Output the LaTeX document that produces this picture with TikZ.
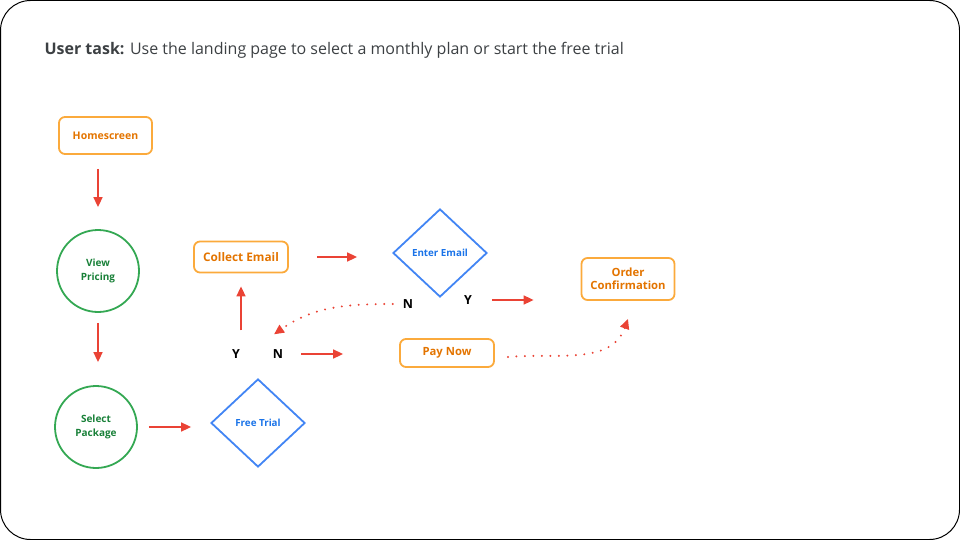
\documentclass[tikz,border=0pt]{standalone}
\usepackage{fontspec}
\setmainfont{Open Sans}
\usetikzlibrary{shapes.geometric,arrows.meta}
\definecolor{boxorange}{HTML}{FBAA3C}
\definecolor{txtorange}{HTML}{E37400}
\definecolor{gcircle}{HTML}{34A853}
\definecolor{txtgreen}{HTML}{188038}
\definecolor{bdiamond}{HTML}{4285F4}
\definecolor{txtblue}{HTML}{1A73E8}
\definecolor{arrred}{HTML}{EA4335}
\definecolor{titlegray}{HTML}{3C4043}
\tikzset{
  stepbox/.style={draw=boxorange,line width=1.8pt,rounded corners=6pt,
    text=txtorange,font=\bfseries\fontsize{11.3}{13.5}\selectfont,align=center,
    minimum width=93pt,inner sep=2pt},
  stepcirc/.style={circle,draw=gcircle,line width=1.8pt,text=txtgreen,
    font=\bfseries\fontsize{10}{13.5}\selectfont,align=center,minimum size=82pt,inner sep=0pt},
  stepdia/.style={diamond,draw=bdiamond,line width=1.8pt,text=txtblue,
    font=\bfseries\fontsize{9.8}{12}\selectfont,minimum width=94pt,minimum height=88pt,inner sep=0pt},
  yn/.style={font=\bfseries\fontsize{12.5}{14}\selectfont,inner sep=0pt},
  redarr/.style={draw=arrred,line width=1.6pt,-{Triangle[length=10pt,width=9pt]}},
  reddots/.style={draw=arrred,line width=2.2pt,line cap=round,dash pattern=on 0pt off 8.5pt,
    -{Triangle[length=10pt,width=9pt]}}
}
\begin{document}
\begin{tikzpicture}[x=1pt,y=-1pt]
\useasboundingbox (0,0) rectangle (960,540);
\draw[line width=1pt,rounded corners=30pt] (0.5,0.5) rectangle (959.5,539.5);
\node[anchor=west,text=titlegray,font=\fontsize{16}{19}\selectfont] (task) at (41,50)
  {\textbf{User task:} Use the landing page to select a monthly plan or start the free trial};
% steps
\node[stepbox,minimum height=37pt,font=\bfseries\fontsize{10.5}{12}\selectfont] (home) at (105.5,135.5) {Homescreen};
\node[stepcirc] (pricing) at (98,271) {View\\Pricing};
\node[stepcirc] (package) at (96,427) {Select\\Package};
\node[stepdia] (trial) at (258,423) {Free Trial};
\node[stepbox,minimum height=31pt,minimum width=94pt,font=\bfseries\fontsize{11.8}{13.5}\selectfont] (collect) at (241,257) {Collect Email};
\node[stepdia] (email) at (440,253) {Enter Email};
\node[stepbox,minimum height=28pt,minimum width=94pt] (pay) at (447,353) {Pay Now};
\node[stepbox,minimum height=42pt] (confirm) at (628,279) {Order\\Confirmation};
% answers
\node[yn] (ytrial) at (236,354) {Y};
\node[yn] (ntrial) at (278,354) {N};
\node[yn] (nemail) at (408,304) {N};
\node[yn] (yemail) at (468,300) {Y};
% arrows
\draw[redarr,shorten <=14pt,shorten >=22pt] (home.south -| pricing.north) -- (pricing.north);
\draw[redarr,shorten <=10pt,shorten >=23pt] (pricing.south) -- (pricing.south |- package.north);
\draw[redarr,shorten <=11pt,shorten >=19pt] (package.east) -- (package.east -| trial.west);
\draw[redarr,shorten <=19pt,shorten >=13pt] (ytrial.north -| collect.south) -- (collect.south);
\draw[redarr,shorten <=28pt,shorten >=35pt] (collect.east) -- (collect.east -| email.west);
\draw[redarr,shorten <=18pt,shorten >=56pt] (ntrial.east) -- (ntrial.east -| pay.west);
\draw[redarr,shorten <=20pt,shorten >=47pt] (yemail.east) -- (yemail.east -| confirm.west);
\draw[reddots] ([xshift=-10pt]nemail.west) to[out=180,in=35] ([shift={(-4pt,15pt)}]ntrial.north);
\draw[reddots] ([shift={(13pt,-4pt)}]pay.east) to[out=5,in=-110] ([yshift=-18pt]confirm.south);
\end{tikzpicture}
\end{document}
